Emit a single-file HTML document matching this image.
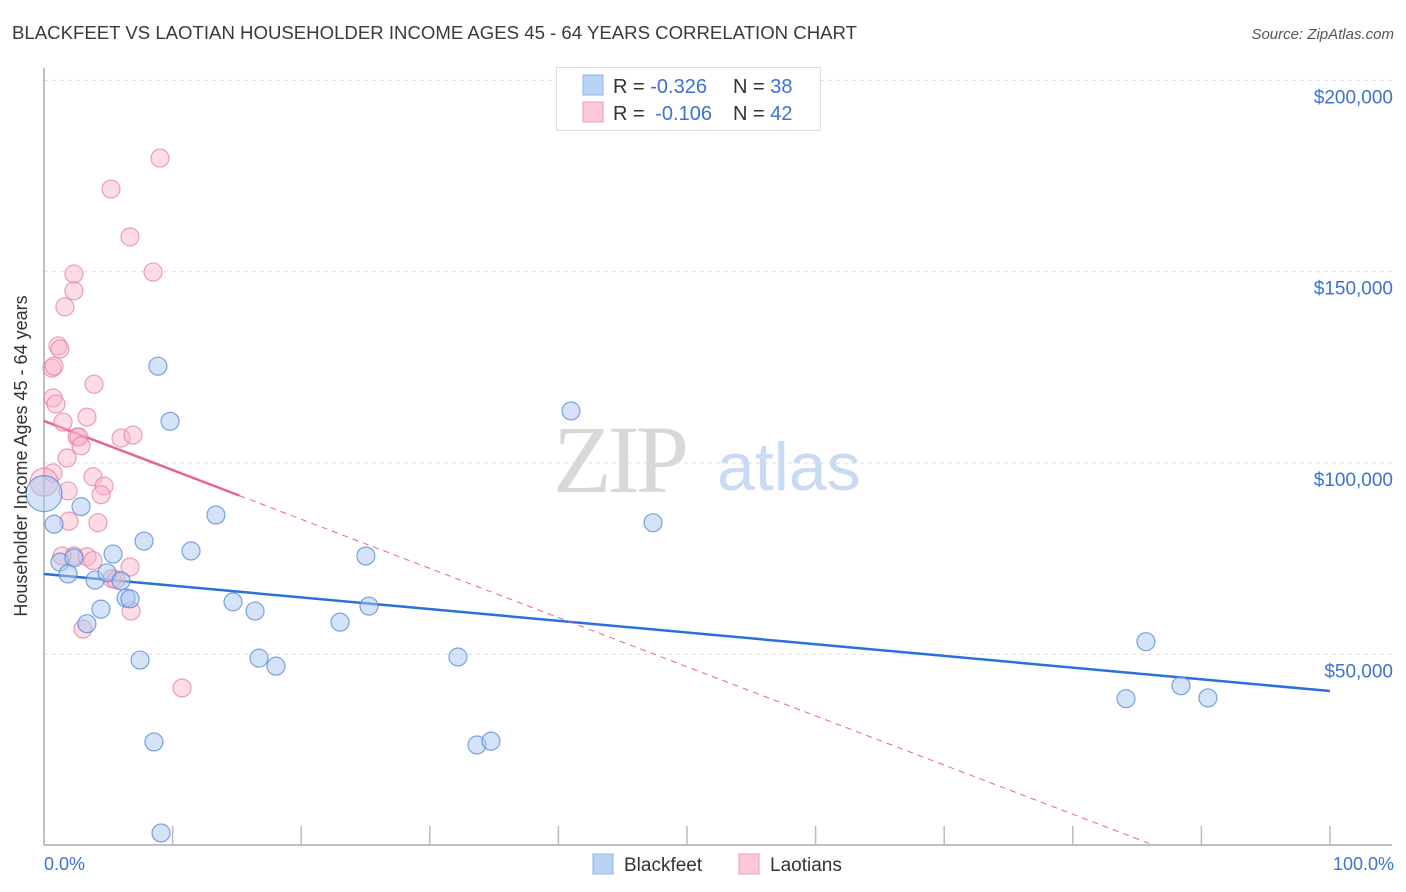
<!DOCTYPE html>
<html><head><meta charset="utf-8"><style>
body{margin:0;background:#fff;font-family:"Liberation Sans",sans-serif;}
svg{display:block}
</style></head><body>
<svg id="chart" width="1406" height="892" xmlns="http://www.w3.org/2000/svg">
<text x="12" y="39" font-size="18" fill="#3a3a3a" textLength="845" lengthAdjust="spacingAndGlyphs">BLACKFEET VS LAOTIAN HOUSEHOLDER INCOME AGES 45 - 64 YEARS CORRELATION CHART</text>
<text x="1394" y="39" font-size="15" fill="#555" font-style="italic" text-anchor="end">Source: ZipAtlas.com</text>
<g>
<text x="553" y="492" font-size="96" font-family="Liberation Serif,serif" fill="#d8d8d8" letter-spacing="-4">ZIP</text>
<text x="717" y="490" font-size="68" fill="#c9dbf2">atlas</text>
</g>
<g id="grid"></g>
<g id="axes"></g>
<g id="trends"></g>
<g id="points"></g>
<text x="34" y="456" font-size="18" fill="#333" text-anchor="middle" transform="rotate(-90 34 456)" dy="-7">Householder Income Ages 45 - 64 years</text>
<text x="44" y="870" font-size="18" fill="#3b72d4">0.0%</text>
<text x="1394" y="870" font-size="18" fill="#3b72d4" text-anchor="end">100.0%</text>
<g>
<rect x="556.5" y="67.5" width="264" height="63" fill="#fff" stroke="#ddd"/>
<rect x="583" y="75" width="20" height="20" fill="#b9d3f5" stroke="#8fb4e8"/>
<rect x="583" y="102" width="20" height="20" fill="#fcc8d8" stroke="#f09ab5"/>
<text x="613" y="93" font-size="20" fill="#333">R = <tspan fill="#3b72d4">-0.326</tspan><tspan x="733">N = </tspan><tspan fill="#3b72d4">38</tspan></text>
<text x="613" y="120" font-size="20" fill="#333">R = <tspan fill="#3b72d4" dx="5">-0.106</tspan><tspan x="733">N = </tspan><tspan fill="#3b72d4">42</tspan></text>
</g>
<g>
<rect x="593" y="854" width="20" height="20" fill="#b9d3f5" stroke="#8fb4e8"/>
<text x="624" y="871" font-size="19" fill="#333">Blackfeet</text>
<rect x="739" y="854" width="20" height="20" fill="#fcc8d8" stroke="#f09ab5"/>
<text x="770" y="871" font-size="19" fill="#333">Laotians</text>
</g>
</svg>
<script>
const yTicks=[50000,100000,150000,200000];
const yTickLabels=["$50,000","$100,000","$150,000","$200,000"];
const xTicks=[0,10,20,30,40,50,60,70,80,90,100];
const blackX=[8.86,9.80,40.98,13.37,47.36,2.88,0.78,0,7.78,11.43,5.37,25.03,1.24,2.33,1.87,3.97,4.90,5.99,6.38,6.69,4.43,14.70,16.41,25.27,23.02,3.34,7.47,16.72,18.04,32.19,85.69,84.14,88.41,90.51,8.55,33.67,34.76,9.10];
const blackY=[125.3,110.9,113.6,86.4,84.4,88.6,84.0,92.0,79.6,77.0,76.2,75.7,74.1,75.2,71.0,69.4,71.3,69.2,64.7,64.5,61.8,63.7,61.3,62.6,58.4,58.0,48.5,49.0,46.9,49.3,53.3,38.4,41.8,38.6,27.1,26.3,27.3,3.3];
const laoX=[9.02,5.21,6.69,8.48,2.33,2.33,1.63,1.09,1.24,0.62,0.78,3.89,0.70,0.93,3.34,1.48,2.57,2.72,5.99,6.92,2.88,1.79,0.70,3.81,4.67,1.87,4.43,1.94,4.20,2.33,3.34,3.81,5.29,6.69,5.60,6.77,3.03,10.73,0,1.40];
const laoY=[179.7,171.6,159.1,149.9,149.4,145.0,140.8,130.6,129.8,124.8,125.3,120.6,117.0,115.4,112.0,110.7,106.8,106.8,106.5,107.3,104.5,101.3,97.4,96.4,94.0,92.7,91.7,84.8,84.4,75.7,75.5,74.5,69.8,72.8,69.5,61.3,56.6,41.2,95.0,75.7];
const bigBlack=[7];
const bigLao=[38];
const blueTrend=[71.0,40.4];       // value at 0% and 100%
const pinkTrend=[111.0,-1.285,15.2]; // intercept, slope per %, solid end %
const NS="http://www.w3.org/2000/svg";
const X=v=>44+v*12.86;
const Y=v=>845.6-v/50000*191.3;
function mk(tag,attrs,parent){const e=document.createElementNS(NS,tag);for(const k in attrs)e.setAttribute(k,attrs[k]);parent.appendChild(e);return e;}
const grid=document.getElementById('grid'),axes=document.getElementById('axes'),tr=document.getElementById('trends'),pts=document.getElementById('points');
yTicks.forEach((t,i)=>{
 const l=mk('line',{x1:44,x2:1392,y1:Y(t),y2:Y(t),stroke:'#ddd','stroke-dasharray':'4,4'},grid);
 
 
 const tx=mk('text',{x:1393,y:Y(t)+23,'font-size':19,fill:'#3b72d4','text-anchor':'end'},grid);
 tx.textContent=yTickLabels[i];
 
 
});
mk('line',{x1:44,x2:44,y1:68,y2:845,stroke:'#aaa','stroke-width':1.5},axes);
mk('line',{x1:44,x2:1392,y1:845,y2:845,stroke:'#aaa','stroke-width':1.5},axes);
xTicks.forEach(t=>{
 const l=mk('line',{x1:X(t),x2:X(t),y1:826,y2:845,stroke:'#bbb','stroke-width':1.5},axes);
 
 
});
const bl=mk('line',{x1:X(0),y1:Y(blueTrend[0]*1000),x2:X(100),y2:Y(blueTrend[1]*1000),stroke:'#2b6fd8','stroke-width':2.5},tr);


const pf=x=>(pinkTrend[0]+pinkTrend[1]*x)*1000;
const pend=-pinkTrend[0]/pinkTrend[1];
const pl=mk('line',{x1:X(0),y1:Y(pf(0)),x2:X(pinkTrend[2]),y2:Y(pf(pinkTrend[2])),stroke:'#e8648f','stroke-width':2.5},tr);


const pd=mk('line',{x1:X(pinkTrend[2]),y1:Y(pf(pinkTrend[2])),x2:X(pend),y2:Y(0),stroke:'#e8648f','stroke-width':1,'stroke-dasharray':'6,5'},tr);


laoX.forEach((x,i)=>{
 const c=mk('circle',{cx:X(x),cy:Y(laoY[i]*1000),r:bigLao.includes(i)?14:9,fill:'rgba(248,180,200,0.45)',stroke:'rgba(232,120,155,0.7)','stroke-width':1.2},pts);
 
 
});
blackX.forEach((x,i)=>{
 const c=mk('circle',{cx:X(x),cy:Y(blackY[i]*1000),r:bigBlack.includes(i)?18:9,fill:'rgba(170,200,240,0.5)',stroke:'rgba(80,135,215,0.75)','stroke-width':1.2},pts);
 
 
});
</script>
</body></html>
